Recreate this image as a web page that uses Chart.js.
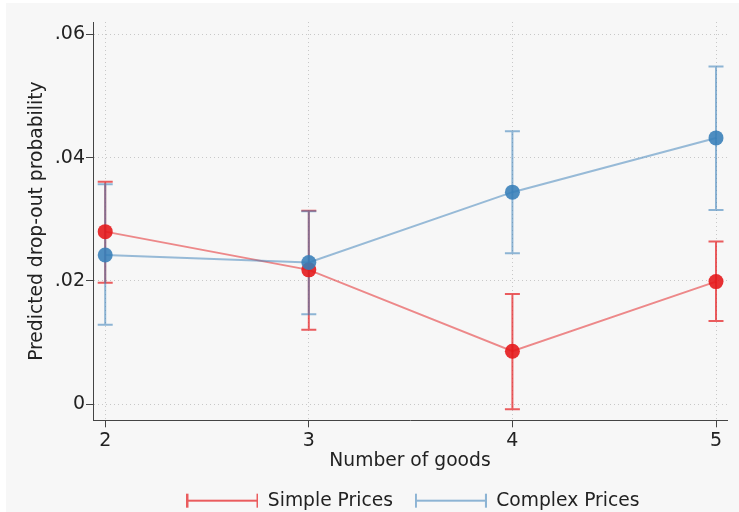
<!DOCTYPE html>
<html>
<head>
<meta charset="utf-8">
<script src="https://cdn.jsdelivr.net/npm/chart.js@4.4.0/dist/chart.umd.min.js"></script>
<style>
  html, body { margin: 0; padding: 0; background: #ffffff; }
  #wrap { width: 739px; height: 512px; }
</style>
</head>
<body>
<div id="wrap"><canvas id="chart" width="739" height="512"></canvas></div>
<script>
// number of goods
const goods = [2, 3, 4, 5];
const yTicks = [0, 0.02, 0.04, 0.06];

// predicted drop-out probability and 95% CI
const simplePrices = [0.0280, 0.0218, 0.0086, 0.0199];
const simpleLow    = [0.0197, 0.0121, -0.0008, 0.0135];
const simpleHigh   = [0.0361, 0.0314, 0.0179, 0.0264];

const complexPrices = [0.0242, 0.0230, 0.0344, 0.0432];
const complexLow    = [0.0129, 0.0146, 0.0245, 0.0315];
const complexHigh   = [0.0357, 0.0313, 0.0443, 0.0548];

const RED = 'rgba(228, 26, 28, 0.9)';
const RED_LINE = 'rgba(228, 26, 28, 0.5)';
const RED_CI = 'rgba(228, 26, 28, 0.7)';
const BLUE = 'rgba(55, 126, 184, 0.88)';
const BLUE_LINE = 'rgba(55, 126, 184, 0.5)';
const BLUE_CI = 'rgba(55, 126, 184, 0.55)';
const FONT = "'DejaVu Sans', sans-serif";
const FS = 18.7;

function legendSymbol(color) {
  const c = document.createElement('canvas');
  c.width = 72; c.height = 16;
  const g = c.getContext('2d');
  g.strokeStyle = color;
  g.lineWidth = 2;
  g.beginPath();
  g.moveTo(1, 8); g.lineTo(71, 8);
  g.moveTo(1, 1); g.lineTo(1, 15);
  g.moveTo(71, 1); g.lineTo(71, 15);
  g.stroke();
  return c;
}
const legendIcons = [legendSymbol(RED_CI), legendSymbol(BLUE_CI)];

const bgPlugin = {
  id: 'bg',
  beforeDraw(chart) {
    const ctx = chart.ctx;
    ctx.save();
    ctx.fillStyle = '#f7f7f7';
    ctx.fillRect(6, 3, chart.width - 6, chart.height - 3);
    ctx.restore();
  }
};

// centre the legend under the plot area, as Stata does
const legendShift = {
  id: 'legendShift',
  afterLayout(chart) {
    const lg = chart.legend, ca = chart.chartArea;
    if (!lg) return;
    const dx = (ca.left + ca.right) / 2 - (lg.left + lg.right) / 2 + 3;
    lg.left += dx; lg.right += dx;
    lg.top += 2; lg.bottom += 2;
  }
};

const errorBars = {
  id: 'errorBars',
  beforeDatasetsDraw(chart) {
    const ctx = chart.ctx;
    const xs = chart.scales.x, ys = chart.scales.y;
    const sets = [[simpleLow, simpleHigh, RED_CI], [complexLow, complexHigh, BLUE_CI]];
    ctx.save();
    ctx.lineWidth = 2;
    sets.forEach(([lo, hi, color]) => {
      ctx.strokeStyle = color;
      goods.forEach((g, i) => {
        const x = xs.getPixelForValue(g);
        const y1 = ys.getPixelForValue(lo[i]);
        const y2 = ys.getPixelForValue(hi[i]);
        ctx.beginPath();
        ctx.moveTo(x, y1); ctx.lineTo(x, y2);
        ctx.moveTo(x - 7.5, y1); ctx.lineTo(x + 7.5, y1);
        ctx.moveTo(x - 7.5, y2); ctx.lineTo(x + 7.5, y2);
        ctx.stroke();
      });
    });
    ctx.restore();
  }
};

const ctx = document.getElementById('chart').getContext('2d');
new Chart(ctx, {
  type: 'line',
  data: {
    datasets: [{
      label: 'Simple Prices',
      data: goods.map((g, i) => ({ x: g, y: simplePrices[i] })),
      borderColor: RED_LINE,
      borderWidth: 2,
      pointRadius: 7.5,
      pointBackgroundColor: RED,
      pointBorderWidth: 0,
      order: 2
    }, {
      label: 'Complex Prices',
      data: goods.map((g, i) => ({ x: g, y: complexPrices[i] })),
      borderColor: BLUE_LINE,
      borderWidth: 2,
      pointRadius: 7.5,
      pointBackgroundColor: BLUE,
      pointBorderWidth: 0,
      order: 1
    }]
  },
  options: {
    responsive: false,
    animation: false,
    layout: { padding: { top: 22, right: 12, bottom: -6, left: 0 } },
    elements: { line: { tension: 0 } },
    plugins: {
      tooltip: { enabled: false },
      legend: {
        position: 'bottom',
        labels: {
          usePointStyle: true,
          pointStyleWidth: 72,
          padding: 22,
          color: '#222',
          font: { family: FONT, size: FS },
          sort: (a, b) => a.datasetIndex - b.datasetIndex,
          generateLabels: chart => {
            const items = Chart.defaults.plugins.legend.labels.generateLabels(chart);
            items.forEach(it => { it.pointStyle = legendIcons[it.datasetIndex]; });
            return items;
          }
        }
      }
    },
    scales: {
      x: {
        type: 'linear',
        min: 1.94,
        max: 5.054,
        afterBuildTicks: s => { s.ticks = goods.map(v => ({ value: v })); },
        afterFit: s => { s.height = 47; },
        ticks: { color: '#222', padding: 2, font: { family: FONT, size: 19 }, callback: v => String(v) },
        grid: { color: '#c8c8c8', tickLength: 7, tickColor: '#444', tickBorderDash: [], tickWidth: 1 },
        border: { display: true, color: '#444', width: 1, dash: [1, 3] },
        title: { display: true, text: 'Number of goods', color: '#222', font: { family: FONT, size: FS }, padding: { top: 0, bottom: -5 } }
      },
      y: {
        type: 'linear',
        min: -0.0026,
        max: 0.062,
        afterBuildTicks: s => { s.ticks = yTicks.map(v => ({ value: v })); },
        afterFit: s => { s.width = 93; },
        ticks: { color: '#222', padding: 1, font: { family: FONT, size: 19 }, callback: v => v === 0 ? '0' : String(+v.toFixed(2)).replace(/^0/, '') },
        grid: { color: '#c8c8c8', tickLength: 7, tickColor: '#444', tickBorderDash: [], tickWidth: 1 },
        border: { display: true, color: '#444', width: 1, dash: [1, 3] },
        title: { display: true, text: 'Predicted drop-out probability', color: '#222', font: { family: FONT, size: FS }, padding: { top: 26, bottom: 0 } }
      }
    }
  },
  plugins: [bgPlugin, legendShift, errorBars]
});
</script>
</body>
</html>
